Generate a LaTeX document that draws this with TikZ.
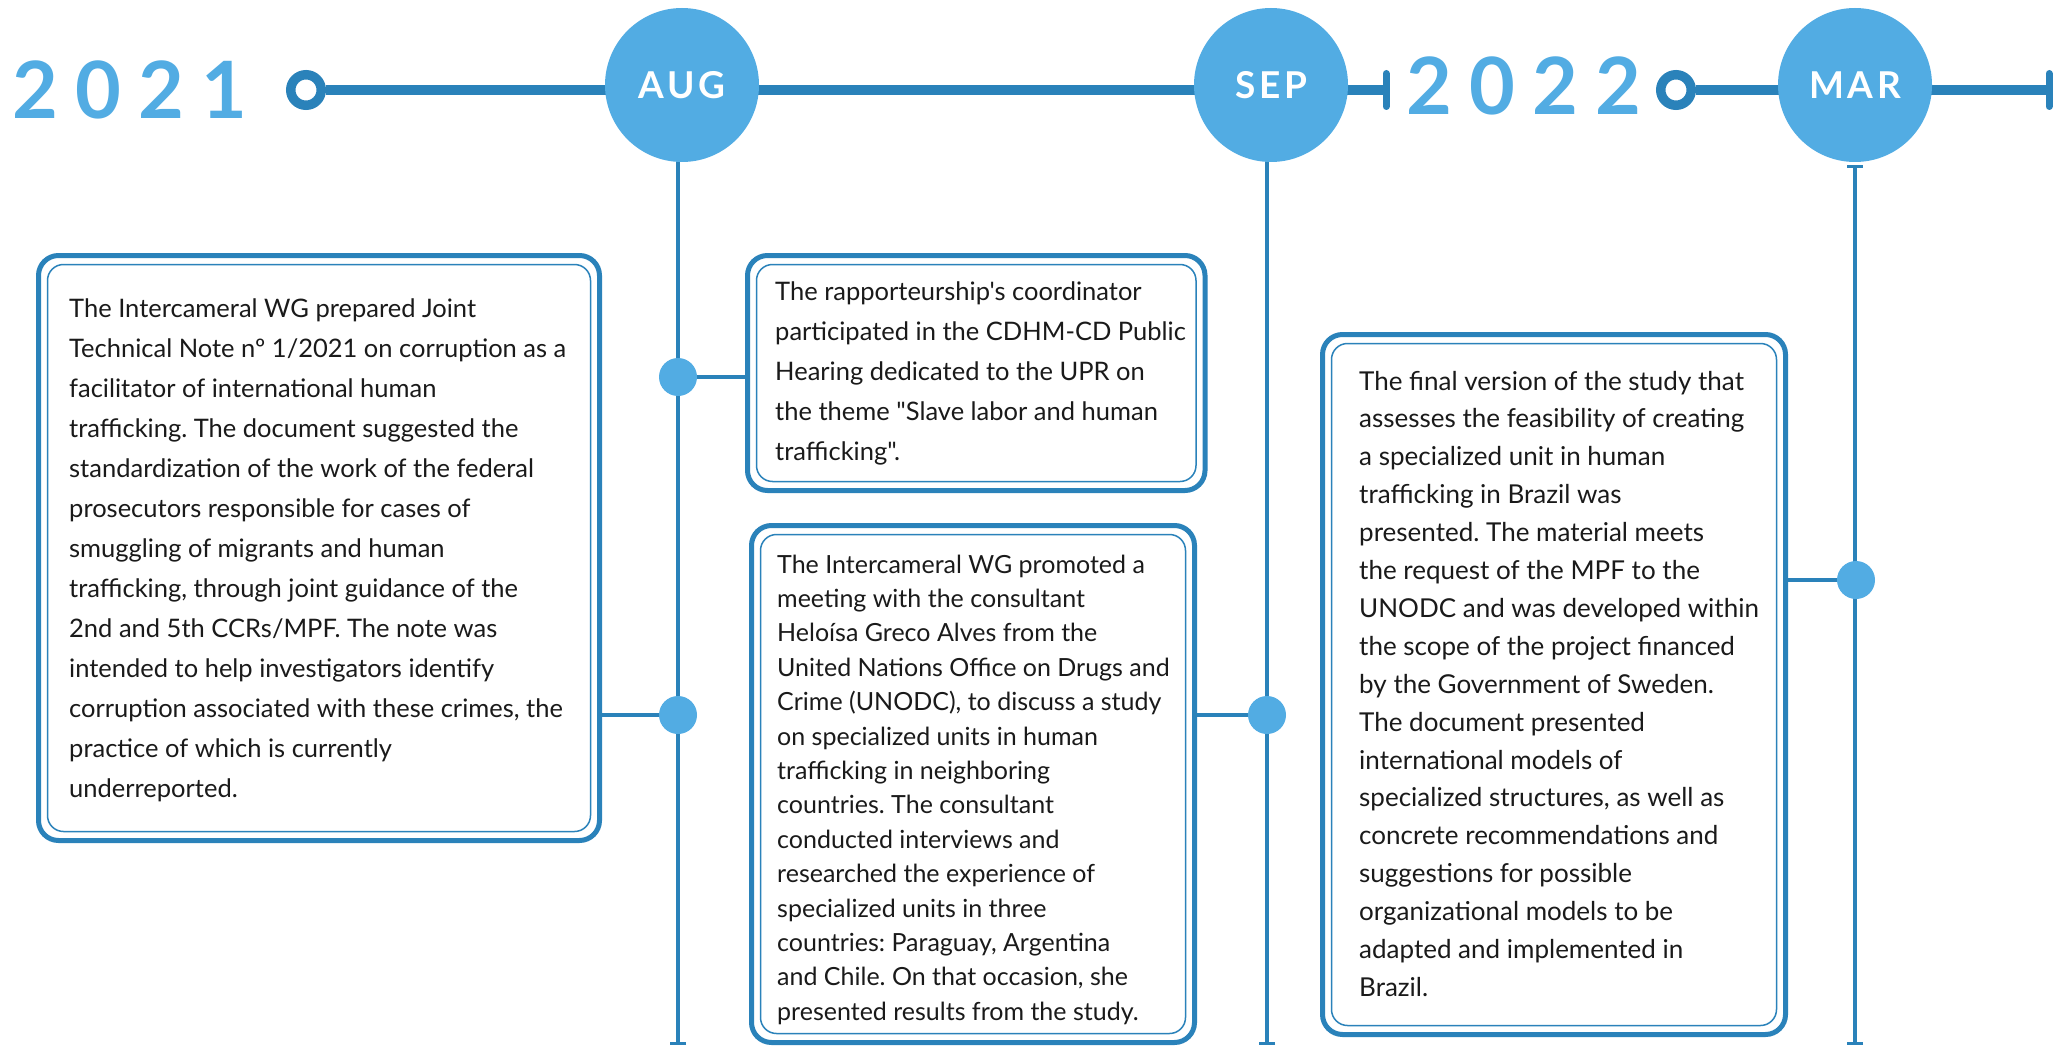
\documentclass[tikz,border=0pt]{standalone}
\usepackage{fontspec}
\setmainfont{Lato}[Ligatures=TeXOff]
\newfontfamily\yearfont[LetterSpace=22]{Lato}
\newfontfamily\monthfont[LetterSpace=10]{Lato}
\usetikzlibrary{arrows.meta}
\definecolor{lb}{HTML}{52ACE3}
\definecolor{db}{HTML}{2A82BA}
\definecolor{tx}{HTML}{1A1A1A}
\pgfdeclarelayer{background}
\pgfsetlayers{background,main}
\frenchspacing
\tikzset{
  mainline/.style={draw=db, line width=10pt},
  endtick/.style={draw=db, line width=7pt, line cap=round},
  vline/.style={draw=db, line width=4.5pt},
  conn/.style={draw=db, line width=4pt},
  ring/.style={circle, draw=db, fill=white, line width=9.5pt, minimum size=30.5pt, inner sep=0pt},
  month/.style={circle, fill=lb, minimum size=154pt, inner sep=0pt, text=white,
     font=\monthfont\bfseries\fontsize{37}{37}\selectfont},
  year/.style={inner sep=0pt, anchor=base west, text=lb,
     font=\yearfont\bfseries\fontsize{79}{79}\selectfont},
  dot/.style={circle, fill=lb, minimum size=38pt, inner sep=0pt},
  outerbox/.style={draw=db, line width=5pt, rounded corners=20pt, inner sep=0pt},
  innerbox/.style={draw=db, line width=1.5pt, rounded corners=16pt, inner sep=0pt},
  btext/.style={inner sep=0pt, anchor=base west, text=tx},
}
\begin{document}
\begin{tikzpicture}[x=1pt,y=-1pt]
\useasboundingbox (0,0) rectangle (2062,1046);

% year labels
\node[year] (y1) at (12,119) {2021};
\node[year] (y2) at (1406,115) {2022};

% timeline markers
\node[ring] (r1) at (306,90) {};
\node[ring] (r2) at (1676,90) {};
\coordinate (e1) at (1386,90);
\coordinate (e1a) at (1386,73.5);
\coordinate (e1b) at (1386,106.5);
\coordinate (e2) at (2049,90);
\coordinate (e2a) at (2049,73.5);
\coordinate (e2b) at (2049,106.5);

\node[month] (aug) at (682,85) {AUG};
\node[month] (sep) at (1271,85) {SEP};
\node[month] (mar) at (1855,85) {MAR};

% vertical line ends
\coordinate (augt) at (678,150);
\coordinate (augb) at (678,1045);
\coordinate (sept) at (1267,150);
\coordinate (sepb) at (1267,1045);
\coordinate (mart) at (1855,165);
\coordinate (marb) at (1855,1045);

% dots
\node[dot] (d1) at (678,377) {};
\node[dot] (d2) at (678,715) {};
\node[dot] (d3) at (1267,715) {};
\node[dot] (d4) at (1856,580) {};

% boxes
\node[outerbox, minimum width=561pt, minimum height=585pt] (b1) at (319,548) {};
\node[innerbox, minimum width=543pt, minimum height=567pt] (b1i) at (319,548) {};
\node[outerbox, minimum width=457.5pt, minimum height=235pt] (b2) at (976.25,373) {};
\node[innerbox, minimum width=439.5pt, minimum height=217pt] (b2i) at (976.25,373) {};
\node[outerbox, minimum width=443pt, minimum height=517pt] (b3) at (973,784) {};
\node[innerbox, minimum width=425pt, minimum height=499pt] (b3i) at (973,784) {};
\node[outerbox, minimum width=463pt, minimum height=700pt] (b4) at (1554,684.5) {};
\node[innerbox, minimum width=445pt, minimum height=682pt] (b4i) at (1554,684.5) {};

% texts
\node[btext, font=\fontsize{25.5}{25.5}\selectfont] (t1) at (69,317) {\vtop{\baselineskip=40pt
\hbox{The Intercameral WG prepared Joint}
\hbox{Technical Note nº 1/2021 on corruption as a}
\hbox{facilitator of international human}
\hbox{trafficking. The document suggested the}
\hbox{standardization of the work of the federal}
\hbox{prosecutors responsible for cases of}
\hbox{smuggling of migrants and human}
\hbox{trafficking, through joint guidance of the}
\hbox{2nd and 5th CCRs/MPF. The note was}
\hbox{intended to help investigators identify}
\hbox{corruption associated with these crimes, the}
\hbox{practice of which is currently}
\hbox{underreported.}}};

\node[btext, font=\fontsize{25.5}{25.5}\selectfont] (t2) at (775,300) {\vtop{\baselineskip=40pt
\hbox{The rapporteurship's coordinator}
\hbox{participated in the CDHM-CD Public}
\hbox{Hearing dedicated to the UPR on}
\hbox{the theme "Slave labor and human}
\hbox{trafficking".}}};

\node[btext, font=\fontsize{25}{25}\selectfont] (t3) at (777,573) {\vtop{\baselineskip=34.4pt
\hbox{The Intercameral WG promoted a}
\hbox{meeting with the consultant}
\hbox{Heloísa Greco Alves from the}
\hbox{United Nations Office on Drugs and}
\hbox{Crime (UNODC), to discuss a study}
\hbox{on specialized units in human}
\hbox{trafficking in neighboring}
\hbox{countries. The consultant}
\hbox{conducted interviews and}
\hbox{researched the experience of}
\hbox{specialized units in three}
\hbox{countries: Paraguay, Argentina}
\hbox{and Chile. On that occasion, she}
\hbox{presented results from the study.}}};

\node[btext, font=\fontsize{26}{26}\selectfont] (t4) at (1359,390) {\vtop{\baselineskip=37.9pt
\hbox{The final version of the study that}
\hbox{assesses the feasibility of creating}
\hbox{a specialized unit in human}
\hbox{trafficking in Brazil was}
\hbox{presented. The material meets}
\hbox{the request of the MPF to the}
\hbox{UNODC and was developed within}
\hbox{the scope of the project financed}
\hbox{by the Government of Sweden.}
\hbox{The document presented}
\hbox{international models of}
\hbox{specialized structures, as well as}
\hbox{concrete recommendations and}
\hbox{suggestions for possible}
\hbox{organizational models to be}
\hbox{adapted and implemented in}
\hbox{Brazil.}}};

\begin{pgfonlayer}{background}
  \fill[white] (0,0) rectangle (2062,1046);
  \draw[mainline] (r1) -- (e1);
  \draw[endtick] (e1a) -- (e1b);
  \draw[mainline] (r2) -- (e2);
  \draw[endtick] (e2a) -- (e2b);
  \draw[vline, -{Bar[width=16pt,line width=3.5pt]}] (augt) -- (augb);
  \draw[vline, -{Bar[width=16pt,line width=3.5pt]}] (sept) -- (sepb);
  \draw[vline, {Bar[width=16pt,line width=3.5pt]}-{Bar[width=16pt,line width=3.5pt]}] (mart) -- (marb);
  \draw[conn] (b2.west |- d1) -- (d1.center);
  \draw[conn] (b1.east |- d2) -- (d2.center);
  \draw[conn] (b3.east |- d3) -- (d3.center);
  \draw[conn] (b4.east |- d4) -- (d4.center);
\end{pgfonlayer}
\end{tikzpicture}
\end{document}
